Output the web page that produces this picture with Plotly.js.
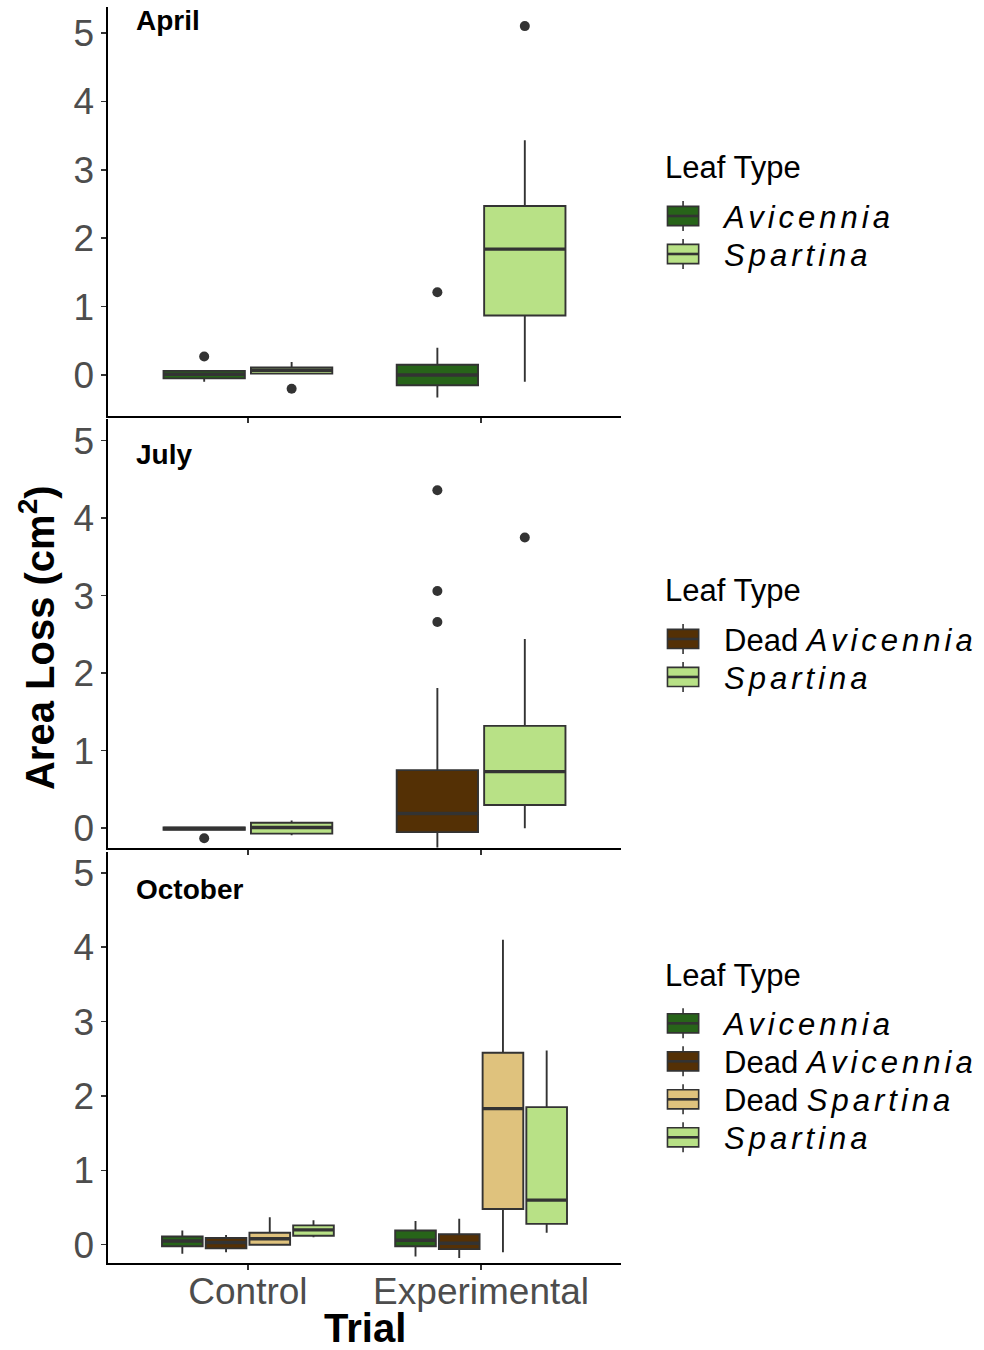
<!DOCTYPE html>
<html>
<head>
<meta charset="utf-8">
<script src="https://cdn.plot.ly/plotly-3.0.1.min.js"></script>
<style>
  html, body { margin: 0; padding: 0; background: #ffffff; }
  #chart { width: 984px; height: 1350px; }
</style>
</head>
<body>
<div id="chart"></div>
<script>
// ---- categories -------------------------------------------------------
const trials = ['Control', 'Experimental'];
const leafTypes  = ['Avicennia', 'Dead Avicennia', 'Dead Spartina', 'Spartina'];
const leafLabels = ['<i>Avicennia</i>', 'Dead <i>Avicennia</i>', 'Dead <i>Spartina</i>', '<i>Spartina</i>'];
const leafColors = ['#276419', '#543005', '#dfc27d', '#b8e186'];

// ---- April (rows: leaf type, columns: trial) ---------------------------
const aprilTypes  = ['Avicennia', 'Spartina'];
const aprilLower  = [[-0.10, -0.33], [0.02, -0.10]];
const aprilQ1     = [[-0.05, -0.15], [0.02,  0.87]];
const aprilMedian = [[ 0.01,  0.00], [0.07,  1.84]];
const aprilQ3     = [[ 0.06,  0.15], [0.11,  2.47]];
const aprilUpper  = [[ 0.06,  0.40], [0.19,  3.43]];
const aprilOutlierType  = ['Avicennia', 'Spartina', 'Avicennia', 'Spartina'];
const aprilOutlierTrial = ['Control', 'Control', 'Experimental', 'Experimental'];
const aprilOutlierValue = [0.27, -0.20, 1.21, 5.10];

// ---- July ---------------------------------------------------------------
const julyTypes  = ['Dead Avicennia', 'Spartina'];
const julyLower  = [[-0.02, -0.25], [-0.09, 0.00]];
const julyQ1     = [[-0.02, -0.05], [-0.07, 0.30]];
const julyMedian = [[ 0.00,  0.19], [ 0.01, 0.73]];
const julyQ3     = [[ 0.01,  0.75], [ 0.07, 1.32]];
const julyUpper  = [[ 0.01,  1.81], [ 0.10, 2.44]];
const julyOutlierType  = ['Dead Avicennia', 'Dead Avicennia', 'Dead Avicennia', 'Dead Avicennia', 'Spartina'];
const julyOutlierTrial = ['Control', 'Experimental', 'Experimental', 'Experimental', 'Experimental'];
const julyOutlierValue = [-0.13, 4.36, 3.06, 2.66, 3.75];

// ---- October ------------------------------------------------------------
const octoberTypes  = ['Avicennia', 'Dead Avicennia', 'Dead Spartina', 'Spartina'];
const octoberLower  = [[-0.12, -0.16], [-0.10, -0.18], [0.00, -0.10], [0.10, 0.16]];
const octoberQ1     = [[-0.02, -0.02], [-0.05, -0.06], [0.00,  0.48], [0.12, 0.28]];
const octoberMedian = [[ 0.05,  0.06], [ 0.03,  0.02], [0.08,  1.83], [0.20, 0.60]];
const octoberQ3     = [[ 0.11,  0.19], [ 0.09,  0.14], [0.16,  2.58], [0.26, 1.85]];
const octoberUpper  = [[ 0.19,  0.32], [ 0.13,  0.35], [0.37,  4.10], [0.33, 2.61]];
const octoberOutlierType  = [];
const octoberOutlierTrial = [];
const octoberOutlierValue = [];

const FONT = 'Liberation Sans, Arial, Helvetica, sans-serif';
const BOX_LINE = '#333333';
const traces = [];

// Each panel dodges its leaf types inside a 0.75-wide slot around every trial.
function addPanel(suffix, types, lower, q1, med, q3, upper, oType, oTrial, oValue) {
  const n = types.length;
  const slot = 0.75 / n;
  const offsetOf = k => (k - (n - 1) / 2) * slot;
  const xa = 'x' + (suffix === 1 ? '' : suffix);
  const ya = 'y' + (suffix === 1 ? '' : suffix);
  const legendId = 'legend' + (suffix === 1 ? '' : suffix);

  types.forEach((t, k) => {
    const c = leafTypes.indexOf(t);
    traces.push({
      type: 'box',
      name: leafLabels[c],
      x: trials.map((_, i) => i + offsetOf(k)),
      lowerfence: lower[k], q1: q1[k], median: med[k], q3: q3[k], upperfence: upper[k],
      width: slot * 0.93,
      whiskerwidth: 0,
      boxpoints: false,
      fillcolor: leafColors[c],
      line: { color: BOX_LINE, width: 1.9 },
      xaxis: xa, yaxis: ya,
      legend: legendId,
      hoverinfo: 'skip'
    });
  });

  if (oValue.length) {
    traces.push({
      type: 'scatter',
      mode: 'markers',
      x: oValue.map((_, j) => trials.indexOf(oTrial[j]) + offsetOf(types.indexOf(oType[j]))),
      y: oValue,
      marker: { color: BOX_LINE, size: 10 },
      xaxis: xa, yaxis: ya,
      showlegend: false,
      hoverinfo: 'skip'
    });
  }
}

addPanel(1, aprilTypes, aprilLower, aprilQ1, aprilMedian, aprilQ3, aprilUpper,
         aprilOutlierType, aprilOutlierTrial, aprilOutlierValue);
addPanel(2, julyTypes, julyLower, julyQ1, julyMedian, julyQ3, julyUpper,
         julyOutlierType, julyOutlierTrial, julyOutlierValue);
addPanel(3, octoberTypes, octoberLower, octoberQ1, octoberMedian, octoberQ3, octoberUpper,
         octoberOutlierType, octoberOutlierTrial, octoberOutlierValue);

function xAxis(anchor, labels) {
  return {
    anchor: anchor, domain: [0, 1], range: [-0.6, 1.6],
    tickvals: [0, 1], ticktext: trials, showticklabels: labels,
    ticks: 'outside', ticklen: 5, tickwidth: 1.5, tickcolor: '#333333',
    ticklabelstandoff: -10,
    tickfont: { family: FONT, size: 37, color: '#4d4d4d' },
    showline: true, linecolor: '#000000', linewidth: 1.6,
    showgrid: false, zeroline: false, fixedrange: true
  };
}
function yAxis(anchor, domain, range) {
  return {
    anchor: anchor, domain: domain, range: range,
    tickvals: [0, 1, 2, 3, 4, 5],
    ticks: 'outside', ticklen: 5, tickwidth: 1.5, tickcolor: '#333333',
    tickfont: { family: FONT, size: 37, color: '#4d4d4d' },
    showline: true, linecolor: '#000000', linewidth: 1.6,
    showgrid: false, zeroline: false, fixedrange: true
  };
}
function legendBox(y) {
  return {
    x: 1.082, xanchor: 'left', y: y, yanchor: 'top',
    bgcolor: 'rgba(0,0,0,0)', borderwidth: 0,
    title: { text: 'Leaf Type', font: { family: FONT, size: 31, color: '#000000' } },
    font: { family: FONT, size: 31, color: '#000000' },
    itemwidth: 30, traceorder: 'normal', tracegroupgap: 0
  };
}
function panelLabel(text, suffix, y) {
  const s = suffix === 1 ? '' : suffix;
  return {
    text: '<b>' + text + '</b>', xref: 'x' + s + ' domain', yref: 'y' + s + ' domain',
    x: 0.05, y: y, xanchor: 'left', yanchor: 'middle', showarrow: false,
    font: { family: FONT, size: 28, color: '#000000' }
  };
}

const layout = {
  width: 984, height: 1350,
  margin: { l: 108, r: 363, t: 0, b: 87 },
  paper_bgcolor: '#ffffff', plot_bgcolor: '#ffffff',
  boxmode: 'overlay',
  font: { family: FONT },
  xaxis:  xAxis('y', false),
  xaxis2: xAxis('y2', false),
  xaxis3: xAxis('y3', true),
  yaxis:  yAxis('x',  [0.6706, 0.9945], [-0.60, 5.38]),
  yaxis2: yAxis('x2', [0.3286, 0.6683], [-0.255, 5.28]),
  yaxis3: yAxis('x3', [0.0, 0.3254], [-0.246, 5.28]),
  legend:  legendBox(0.8907),
  legend2: legendBox(0.5558),
  legend3: legendBox(0.2515),
  annotations: [
    panelLabel('April', 1, 0.968),
    panelLabel('July', 2, 0.918),
    panelLabel('October', 3, 0.91),
    {
      text: '<b>Area Loss (cm<sup>2</sup>)</b>', xref: 'paper', yref: 'paper',
      x: -0.138, y: 0.495, xanchor: 'center', yanchor: 'middle', textangle: -90,
      showarrow: false, font: { family: FONT, size: 40, color: '#000000' }
    },
    {
      text: '<b>Trial</b>', xref: 'paper', yref: 'paper',
      x: 0.5, y: -0.0515, xanchor: 'center', yanchor: 'middle',
      showarrow: false, font: { family: FONT, size: 40, color: '#000000' }
    }
  ]
};

Plotly.newPlot('chart', traces, layout, { staticPlot: true, displayModeBar: false }).then(function (gd) {
  const NS = 'http://www.w3.org/2000/svg';

  // Heavier median bar on every box (first segment of each box outline).
  gd.querySelectorAll('g.trace.boxes path.box').forEach(function (p) {
    const m = /^M([-\d.e]+),([-\d.e]+)H([-\d.e]+)/.exec(p.getAttribute('d') || '');
    if (!m) return;
    const med = document.createElementNS(NS, 'path');
    med.setAttribute('d', 'M' + m[1] + ',' + m[2] + 'H' + m[3]);
    med.setAttribute('fill', 'none');
    med.setAttribute('stroke', BOX_LINE);
    med.setAttribute('stroke-width', '3.4');
    p.parentNode.appendChild(med);
  });

  // Legend keys drawn as small box-and-whisker glyphs.
  gd.querySelectorAll('path.legendbox').forEach(function (p) {
    const t = p.getAttribute('transform') || '';
    p.setAttribute('transform', t + ' scale(2.6,1.6)');
    p.setAttribute('vector-effect', 'non-scaling-stroke');
    p.style.strokeWidth = '1.6px';
    const extra = document.createElementNS(NS, 'path');
    extra.setAttribute('d', 'M0,-9.6V-15M0,9.6V15');
    extra.setAttribute('transform', t);
    extra.setAttribute('fill', 'none');
    extra.setAttribute('stroke', BOX_LINE);
    extra.setAttribute('stroke-width', '1.6');
    p.parentNode.appendChild(extra);
    const mid = document.createElementNS(NS, 'path');
    mid.setAttribute('d', 'M-15.6,0H15.6');
    mid.setAttribute('transform', t);
    mid.setAttribute('fill', 'none');
    mid.setAttribute('stroke', BOX_LINE);
    mid.setAttribute('stroke-width', '2.6');
    p.parentNode.appendChild(mid);
  });

  // Species names: italic, slightly tracked; labels set a little further from the key.
  gd.querySelectorAll('g.traces text').forEach(function (t) {
    t.setAttribute('x', '61');
    t.querySelectorAll('tspan').forEach(function (s) {
      if ((s.getAttribute('style') || '').indexOf('italic') !== -1) {
        s.setAttribute('letter-spacing', '4px');
        s.style.letterSpacing = '4px';
      }
    });
  });

  // Tighter, even spacing of legend rows below each title; rows may run wider than the box.
  gd.querySelectorAll('g.scrollbox').forEach(function (box) {
    box.removeAttribute('clip-path');
    let first = null;
    box.querySelectorAll('g.traces').forEach(function (it, i) {
      const m = /translate\(([-\d.e]+)[ ,]+([-\d.e]+)\)/.exec(it.getAttribute('transform') || '');
      if (!m) return;
      if (first === null) first = parseFloat(m[2]);
      it.setAttribute('transform', 'translate(' + m[1] + ',' + (first + 11 + i * 38) + ')');
    });
  });
});
</script>
</body>
</html>
